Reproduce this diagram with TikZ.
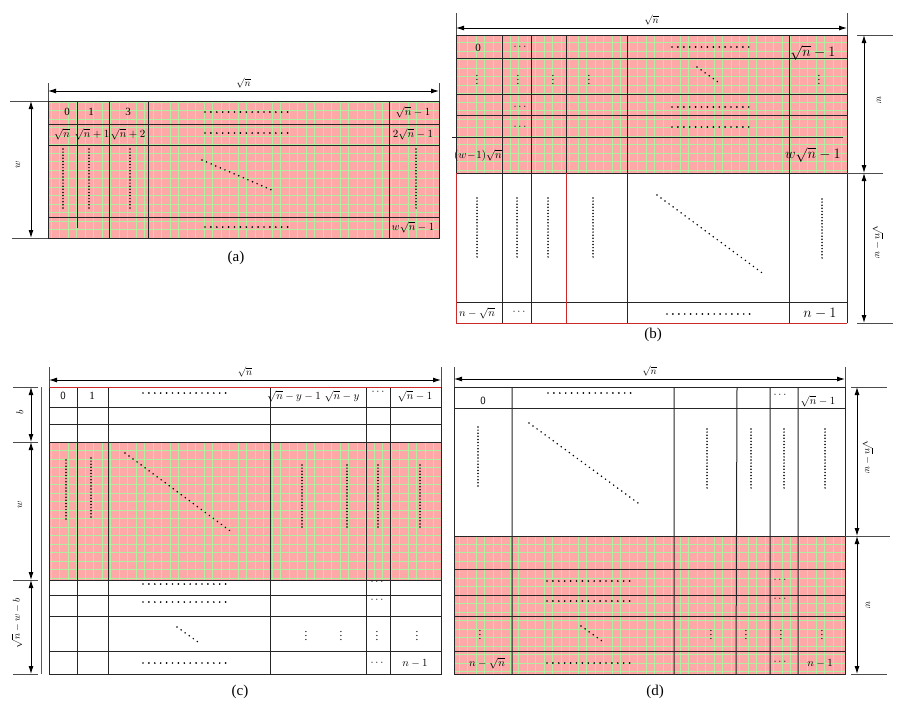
\documentclass[tikz,border=0pt]{standalone}
\usepackage{fontspec}
\setmainfont{Liberation Serif}
\usepackage{tikz}
\usetikzlibrary{arrows.meta}
\definecolor{hotpink}{RGB}{254,168,168}
\definecolor{hotgrid}{RGB}{178,238,162}
\definecolor{edgered}{RGB}{205,40,40}

\begin{document}
\begin{tikzpicture}[x=1pt,y=-1pt,
		tab/.style={draw=black!85,line width=1pt},
		red edge/.style={draw=edgered,line width=1pt},
		hot/.style={fill=hotpink},
		hot grid/.style={draw=hotgrid,line width=0.8pt},
		ext/.style={draw=black!70,line width=0.7pt},
		dim/.style={{Latex[length=8pt,width=5pt]}-{Latex[length=8pt,width=5pt]},line width=0.9pt},
		hdots/.style={line width=1.9pt,line cap=round,dash pattern=on 0pt off 5.9pt},
		vdots/.style={line width=1.7pt,line cap=round,dash pattern=on 0pt off 3.1pt},
		ddots/.style={line width=1.7pt,line cap=round,dash pattern=on 0pt off 5pt},
		cell/.style={inner sep=0pt,font=\fontsize{11}{13}\selectfont},
		big cell/.style={inner sep=0pt,font=\fontsize{13.5}{15}\selectfont},
		side/.style={inner sep=0pt,font=\fontsize{10}{12}\selectfont},
		caption/.style={inner sep=0pt,font=\fontsize{15}{17}\selectfont}]
		\useasboundingbox (0,0) rectangle (904,710);
		% (a)
		\fill[hot] (48,101) rectangle (439,238);
		\draw[hot grid,step=8.5pt] (48,238) grid (439,101);
		\draw[tab] (48,124) -- (439,124) (48,145) -- (439,145) (48,217) -- (439,217);
		\draw[tab] (77,101) -- (77,228) (109,101) -- (109,238) (148,101) -- (148,238) (389,101) -- (389,238);
		\draw[tab] (48,101) rectangle (439,238);
		\coordinate (aW1) at (48,91);
		\coordinate (aW2) at (439,91);
		\coordinate (aH1) at (31,101);
		\coordinate (aH2) at (31,238);
		\draw[ext] (48,83) -- (48,101) (439,83) -- (439,101) (10,101) -- (48,101) (12,238) -- (48,238);
		\draw[dim] (aW1) -- (aW2) node[midway,above=2pt,side] (aWn) {$\sqrt{n}$};
		\draw[dim] (aH1) -- (aH2);
		\node[side,rotate=90] (aWw) at (18,165) {$w$};
		\node[cell] (a00) at (67,112) {0};
		\node[cell] (a01) at (91,112) {1};
		\node[cell] (a02) at (128,112) {3};
		\node[cell] (a03) at (413,112) {$\sqrt{n}-1$};
		\node[cell] (a10) at (62,134) {$\sqrt{n}$};
		\node[cell] (a11) at (92,134) {$\sqrt{n}+1$};
		\node[cell] (a12) at (128,134) {$\sqrt{n}+2$};
		\node[cell] (a13) at (413,134) {$2\sqrt{n}-1$};
		\node[cell] (a33) at (413,227) {$w\sqrt{n}-1$};
		\draw[hdots] (205,112) -- (288,112) (205,133) -- (288,133) (205,227) -- (288,227);
		\draw[vdots] (63,149) -- (63,211) (89,149) -- (89,211) (130,149) -- (130,211) (416,149) -- (416,209);
		\draw[ddots] (202,160) -- (274,191);
		\node[caption] (acap) at (236,258) {(a)};
		% (b)
		\fill[hot] (456,35) rectangle (847,173);
		\draw[hot grid,step=8.5pt] (456,173) grid (847,35);
		\draw[tab] (456,58) -- (847,58) (456,94) -- (847,94) (456,115) -- (847,115) (452,137) -- (843,137) (456,302) -- (847,302);
		\draw[tab] (502,35) -- (502,323) (531,35) -- (531,323) (566,35) -- (566,173) (627,35) -- (627,323) (789,35) -- (789,323);
		\draw[tab] (456,35) rectangle (847,173);
		\draw[tab] (847,173) -- (847,323);
		\draw[red edge] (456,173) -- (456,323) -- (847,323) (566,173) -- (566,323);
		\coordinate (bW1) at (456,28);
		\coordinate (bW2) at (847,28);
		\coordinate (bH1) at (864,35);
		\coordinate (bH2) at (864,173);
		\coordinate (bH3) at (864,323);
		\draw[ext] (456,13) -- (456,35) (847,13) -- (847,35) (857,35) -- (893,35) (847,173) -- (883,173) (857,323) -- (893,323);
		\draw[dim] (bW1) -- (bW2) node[midway,above=2pt,side] (bWn) {$\sqrt{n}$};
		\draw[dim] (bH1) -- (bH2);
		\draw[dim] (bH2) -- (bH3);
		\node[side,rotate=-90] (bWw) at (879,100) {$w$};
		\node[side,rotate=-90] (bWr) at (878,242) {$\sqrt{n}-w$};
		\node[cell] (b00) at (478,48) {0};
		\node[cell] (b01) at (520,47) {$\cdots$};
		\node[big cell] (b05) at (813,53) {$\sqrt{n}-1$};
		\node[cell] (b10) at (477,77) {$\vdots$};
		\node[cell] (b11) at (518,77) {$\vdots$};
		\node[cell] (b12) at (553,77) {$\vdots$};
		\node[cell] (b13) at (589,77) {$\vdots$};
		\node[cell] (b15) at (819,77) {$\vdots$};
		\node[cell] (b21) at (520,107) {$\cdots$};
		\node[cell] (b31) at (520,127) {$\cdots$};
		\node[cell] (b40) at (478,155) {$(w\!-\!1)\sqrt{n}$};
		\node[big cell] (b45) at (813,155) {$w\sqrt{n}-1$};
		\node[cell] (b60) at (477,313) {$n-\sqrt{n}$};
		\node[cell] (b61) at (519,312) {$\cdots$};
		\node[big cell] (b65) at (820,313) {$n-1$};
		\draw[hdots] (672,47) -- (752,47) (672,107) -- (752,107) (672,127) -- (752,127) (667,314) -- (751,314);
		\draw[ddots] (697,67) -- (718,82);
		\draw[vdots] (477,198) -- (477,260) (517,198) -- (517,260) (548,198) -- (548,260) (593,198) -- (593,260) (822,199) -- (822,261);
		\draw[ddots] (657,195) -- (765,275);
		\node[caption] (bcap) at (653,335) {(b)};
		% (c)
		\fill[hot] (49,442) rectangle (441,580);
		\draw[hot grid,step=8.5pt] (49,580) grid (441,442);
		\draw[tab] (49,407) -- (441,407) (49,424) -- (441,424) (49,442) -- (441,442) (49,580) -- (441,580)
			(49,595) -- (441,595) (49,616) -- (441,616) (49,651) -- (441,651);
		\draw[tab] (77,387) -- (77,674) (108,387) -- (108,674) (270,387) -- (270,674) (366,387) -- (366,674) (390,387) -- (390,674);
		\draw[tab] (49,387) rectangle (441,674);
		\draw[red edge] (49,387) -- (441,387) (41,387) -- (41,674);
		\coordinate (cW1) at (49,380);
		\coordinate (cW2) at (441,380);
		\coordinate (cH1) at (31,387);
		\coordinate (cH2) at (31,442);
		\coordinate (cH3) at (31,580);
		\coordinate (cH4) at (31,674);
		\draw[ext] (49,367) -- (49,387) (441,367) -- (441,387)
			(13,387) -- (38,387) (13,442) -- (38,442) (13,580) -- (38,580) (13,674) -- (38,674);
		\draw[dim] (cW1) -- (cW2) node[midway,above=2pt,side] (cWn) {$\sqrt{n}$};
		\draw[dim] (cH1) -- (cH2);
		\draw[dim] (cH2) -- (cH3);
		\draw[dim] (cH3) -- (cH4);
		\node[side,rotate=90] (cWb) at (20,412) {$b$};
		\node[side,rotate=90] (cWw) at (20,505) {$w$};
		\node[side,rotate=90] (cWr) at (17,623) {$\sqrt{n}-w-b$};
		\node[cell] (c00) at (63,396) {\sffamily 0};
		\node[cell] (c01) at (92,396) {1};
		\node[cell] (c03) at (294,396) {$\sqrt{n}-y-1$};
		\node[cell] (c04) at (342,396) {$\sqrt{n}-y$};
		\node[cell] (c05) at (378,392) {$\cdots$};
		\node[cell] (c06) at (415,396) {$\sqrt{n}-1$};
		\draw[hdots] (143,393) -- (228,393);
		\draw[vdots] (66,460) -- (66,520) (91,458) -- (91,520) (302,465) -- (302,528) (347,465) -- (347,528) (378,465) -- (378,528) (420,465) -- (420,528);
		\draw[ddots] (125,453) -- (233,533);
		\draw[hdots] (143,584) -- (227,584) (143,602) -- (227,602) (143,663) -- (227,663);
		\node[cell] (c15) at (377,582) {$\cdots$};
		\node[cell] (c25) at (377,600) {$\cdots$};
		\draw[ddots] (177,627) -- (198,642);
		\node[cell] (c33) at (306,633) {$\vdots$};
		\node[cell] (c34) at (341,633) {$\vdots$};
		\node[cell] (c35) at (377,633) {$\vdots$};
		\node[cell] (c36) at (417,633) {$\vdots$};
		\node[cell] (c45) at (377,663) {$\cdots$};
		\node[cell] (c46) at (415,663) {$n-1$};
		\node[caption] (ccap) at (240,692) {(c)};
		% (d)
		\fill[hot] (454,536) rectangle (845,674);
		\draw[hot grid,step=8.5pt] (454,674) grid (845,536);
		\draw[tab] (454,408) -- (845,408) (454,536) -- (845,536) (454,569) -- (845,569) (454,595) -- (845,595)
			(454,616) -- (845,616) (454,651) -- (845,651);
		\draw[tab] (512,387) -- (512,674) (674,387) -- (674,674) (737,387) -- (736,674) (770,387) -- (770,674) (798,387) -- (798,674);
		\draw[tab] (454,387) rectangle (845,674);
		\coordinate (dW1) at (454,379);
		\coordinate (dW2) at (845,379);
		\coordinate (dH1) at (857,387);
		\coordinate (dH2) at (857,536);
		\coordinate (dH3) at (857,674);
		\draw[ext] (454,367) -- (454,387) (845,367) -- (845,387) (851,387) -- (887,387) (845,536) -- (890,536) (851,674) -- (887,674);
		\draw[dim] (dW1) -- (dW2) node[midway,above=2pt,side] (dWn) {$\sqrt{n}$};
		\draw[dim] (dH1) -- (dH2);
		\draw[dim] (dH2) -- (dH3);
		\node[side,rotate=-90] (dWr) at (868,457) {$\sqrt{n}-w$};
		\node[side,rotate=-90] (dWw) at (868,605) {$w$};
		\node[cell] (d00) at (483,401) {\sffamily 0};
		\node[cell] (d04) at (780,395) {$\cdots$};
		\node[cell] (d05) at (818,401) {$\sqrt{n}-1$};
		\draw[hdots] (548,393) -- (633,393);
		\draw[vdots] (478,427) -- (478,489) (707,429) -- (707,491) (751,429) -- (751,491) (784,429) -- (784,491) (825,429) -- (825,491);
		\draw[ddots] (529,423) -- (638,503);
		\draw[hdots] (547,581) -- (631,581) (547,601) -- (631,601) (547,663) -- (631,663);
		\node[cell] (d24) at (780,580) {$\cdots$};
		\node[cell] (d34) at (780,599) {$\cdots$};
		\node[cell] (d40) at (480,632) {$\vdots$};
		\draw[ddots] (581,626) -- (602,641);
		\node[cell] (d42) at (711,632) {$\vdots$};
		\node[cell] (d43) at (746,632) {$\vdots$};
		\node[cell] (d44) at (781,632) {$\vdots$};
		\node[cell] (d45) at (822,632) {$\vdots$};
		\node[cell] (d50) at (487,663) {$n-\sqrt{n}$};
		\node[cell] (d54) at (780,662) {$\cdots$};
		\node[cell] (d55) at (820,663) {$n-1$};
		\node[caption] (dcap) at (655,692) {(d)};
\end{tikzpicture}
\end{document}
